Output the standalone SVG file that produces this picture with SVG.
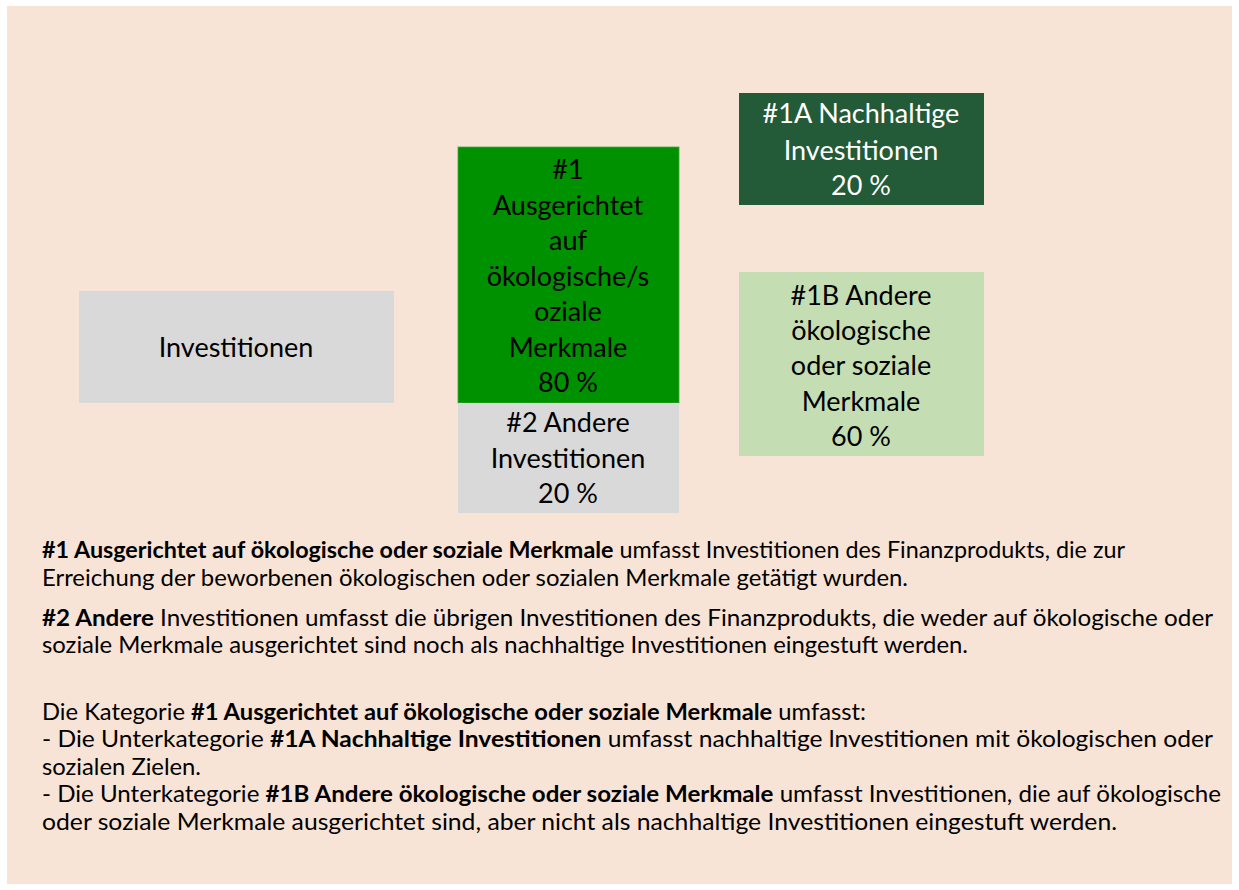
<svg xmlns="http://www.w3.org/2000/svg" width="1239" height="890" viewBox="0 0 1239 890">
<style>
.box text{font-family:Lato,"Open Sans","Liberation Sans",sans-serif;font-size:27px;text-anchor:middle;fill:#000}
.box text.w{fill:#ffffff}
.body{font-family:Lato,"Open Sans","Liberation Sans",sans-serif;font-size:23px;fill:#000}
.b{font-weight:bold}
</style>
<rect x="0" y="0" width="1239" height="890" fill="#ffffff"/>
<rect x="7" y="6" width="1225" height="878" fill="#F8E4D6"/>
<g id="node-investitionen" class="box">
<rect x="79" y="291" width="315" height="112" fill="#D9D9D9"/>
<text x="236" y="357">Investitionen</text>
</g>
<g id="node-1" class="box">
<rect x="458" y="147" width="221" height="256" fill="#009100" stroke="#3EA83E" stroke-width="0.8"/>
<text x="568" y="179">#1</text>
<text x="568" y="214.5">Ausgerichtet</text>
<text x="568" y="250">auf</text>
<text x="568" y="285.5">ökologische/s</text>
<text x="568" y="321">oziale</text>
<text x="568" y="356.5">Merkmale</text>
<text x="568" y="392">80 %</text>
</g>
<g id="node-2" class="box">
<rect x="458" y="403" width="221" height="110" fill="#D9D9D9"/>
<text x="568" y="432">#2 Andere</text>
<text x="568" y="468">Investitionen</text>
<text x="568" y="503">20 %</text>
</g>
<g id="node-1a" class="box">
<rect x="739" y="93" width="245" height="112" fill="#235A38"/>
<text class="w" x="861" y="123">#1A Nachhaltige</text>
<text class="w" x="861" y="160">Investitionen</text>
<text class="w" x="861" y="195">20 %</text>
</g>
<g id="node-1b" class="box">
<rect x="739" y="272" width="245" height="184" fill="#C4DDB3"/>
<text x="861" y="305">#1B Andere</text>
<text x="861" y="340">ökologische</text>
<text x="861" y="375">oder soziale</text>
<text x="861" y="411">Merkmale</text>
<text x="861" y="446">60 %</text>
</g>
<g id="connectors"></g>
<g id="legend" class="body">
<text x="42" y="558" textLength="1083" lengthAdjust="spacingAndGlyphs"><tspan class="b">#1 Ausgerichtet auf ökologische oder soziale Merkmale</tspan> umfasst Investitionen des Finanzprodukts, die zur</text>
<text x="42" y="586" textLength="866" lengthAdjust="spacingAndGlyphs">Erreichung der beworbenen ökologischen oder sozialen Merkmale getätigt wurden.</text>
<text x="42" y="626" textLength="1171" lengthAdjust="spacingAndGlyphs"><tspan class="b">#2 Andere</tspan> Investitionen umfasst die übrigen Investitionen des Finanzprodukts, die weder auf ökologische oder</text>
<text x="42" y="653" textLength="926" lengthAdjust="spacingAndGlyphs">soziale Merkmale ausgerichtet sind noch als nachhaltige Investitionen eingestuft werden.</text>
<text x="42" y="720" textLength="824" lengthAdjust="spacingAndGlyphs">Die Kategorie <tspan class="b">#1 Ausgerichtet auf ökologische oder soziale Merkmale</tspan> umfasst:</text>
<text x="42" y="747" textLength="1171" lengthAdjust="spacingAndGlyphs">- Die Unterkategorie <tspan class="b">#1A Nachhaltige Investitionen</tspan> umfasst nachhaltige lnvestitionen mit ökologischen oder</text>
<text x="42" y="775" textLength="159" lengthAdjust="spacingAndGlyphs">sozialen Zielen.</text>
<text x="42" y="802" textLength="1179" lengthAdjust="spacingAndGlyphs">- Die Unterkategorie <tspan class="b">#1B Andere ökologische oder soziale Merkmale</tspan> umfasst Investitionen, die auf ökologische</text>
<text x="42" y="830" textLength="1075" lengthAdjust="spacingAndGlyphs">oder soziale Merkmale ausgerichtet sind, aber nicht als nachhaltige Investitionen eingestuft werden.</text>
</g>
</svg>
